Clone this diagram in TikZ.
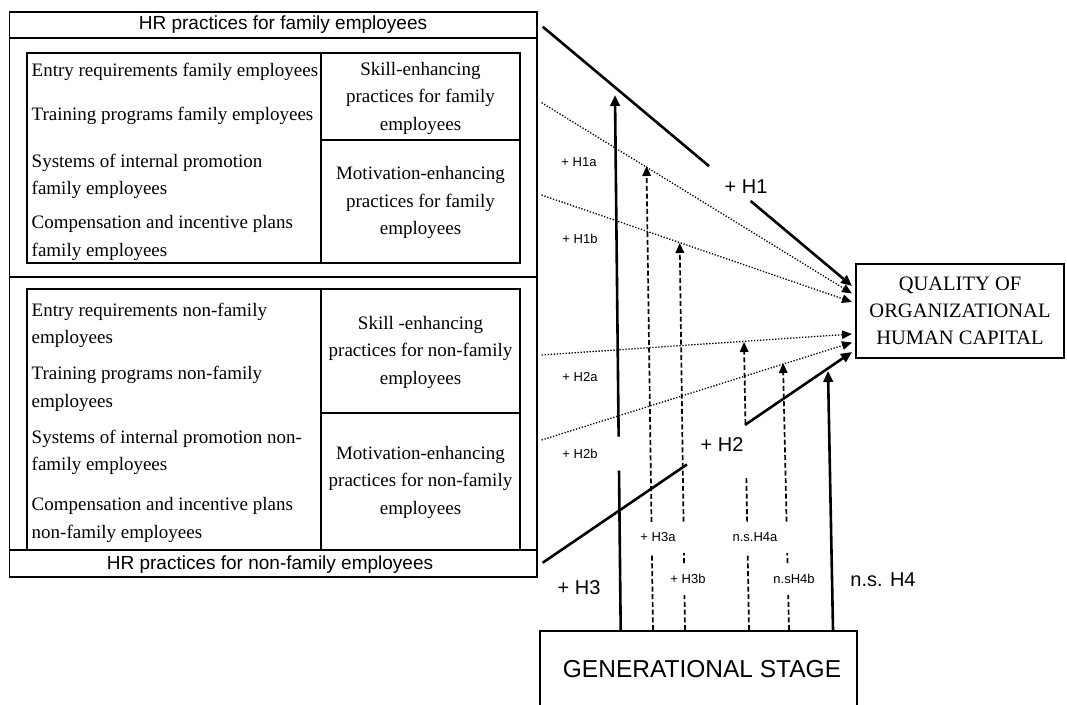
\documentclass[tikz,border=0pt]{standalone}
\usepackage{fontspec}
\setmainfont{Liberation Serif}
\newfontfamily\arialf{Liberation Sans}
\usetikzlibrary{arrows.meta,calc}
\begin{document}
\begin{tikzpicture}[x=1pt,y=-1pt,
  frameline/.style={line width=1.8pt},
  sertext/.style={font=\fontsize{19}{27.5}\selectfont, inner sep=0pt},
  lefttext/.style={sertext, anchor=west, align=left},
  celltext/.style={sertext, align=center},
  hdrtext/.style={font=\arialf\fontsize{19}{23}\selectfont, inner sep=0pt},
  biglabel/.style={font=\arialf\fontsize{20}{24}\selectfont, inner sep=0pt},
  smalllabel/.style={font=\arialf\fontsize{13}{16}\selectfont, inner sep=0pt},
  strongseg/.style={line width=2.6pt},
  strongarr/.style={line width=2.6pt, -{Triangle[length=11pt,width=9.5pt]}},
  dotarr/.style={line width=1.3pt, dash pattern=on 1.3pt off 1.7pt, -{Triangle[length=10pt,width=8.5pt]}},
  dashseg/.style={line width=1.7pt, dash pattern=on 5pt off 2.7pt},
  dasharr/.style={dashseg, -{Triangle[length=10pt,width=8.5pt]}},
]
\useasboundingbox (0,0) rectangle (1067,704);
\clip (0,0) rectangle (1067,704);

% ---------- left frame ----------
\draw[frameline] (9.5,11.7) rectangle (537,577.3);
\draw[frameline] (9.5,37.7) -- (537,37.7);
\draw[frameline] (9.5,276.7) -- (537,276.7);
\draw[frameline] (9.5,550) -- (537,550);
% inner box family
\draw[frameline] (27,52.7) rectangle (520,263.3);
\draw[frameline] (321,52.7) -- (321,263.3);
\draw[frameline] (321,140) -- (520,140);
% inner box non-family
\draw[frameline] (27,550) -- (27,289) -- (520,289) -- (520,550);
\draw[frameline] (321,289) -- (321,550);
\draw[frameline] (321,413.3) -- (520,413.3);

\node[hdrtext] (hdrF) at (283,25) {HR practices for family employees};
\node[hdrtext] (hdrN) at (270,565) {HR practices for non-family employees};

% family texts
\node[lefttext] (f1) at (31.5,71.7) {Entry requirements family employees};
\node[lefttext] (f2) at (31.5,116) {Training programs family employees};
\node[lefttext] (f3) at (31.5,176.2) {Systems of internal promotion\\family employees};
\node[lefttext] (f4) at (31.5,237.9) {Compensation and incentive plans\\family employees};
\node[celltext] (fs) at (420.5,98.4) {Skill-enhancing\\practices for family\\employees};
\node[celltext] (fm) at (420.5,202.8) {Motivation-enhancing\\practices for family\\employees};

% non-family texts
\node[lefttext] (n1) at (31.5,325.5) {Entry requirements non-family\\employees};
\node[lefttext] (n2) at (31.5,388.7) {Training programs non-family\\employees};
\node[lefttext] (n3) at (31.5,452.2) {Systems of internal promotion non-\\family employees};
\node[lefttext] (n4) at (31.5,520) {Compensation and incentive plans\\non-family employees};
\node[celltext] (ns) at (420.5,352.1) {Skill -enhancing\\practices for non-family\\employees};
\node[celltext] (nm) at (420.5,482.3) {Motivation-enhancing\\practices for non-family\\employees};

% ---------- outcome and moderator ----------
\node[draw, frameline, minimum width=208pt, minimum height=94pt, inner sep=0pt,
      font=\fontsize{20.5}{27}\selectfont, align=center] (Q) at (960,311)
      {QUALITY OF\\ORGANIZATIONAL\\HUMAN CAPITAL};
\node[draw, frameline, minimum width=317pt, minimum height=100pt, inner sep=0pt,
      anchor=north west] (G) at (539,630) {};
\node[font=\arialf\fontsize{24.5}{28}\selectfont, inner sep=0pt] (Gt) at (702,669) {GENERATIONAL STAGE};

% ---------- coordinates ----------
\coordinate (h1s) at (542.7,26.7);  \coordinate (h1e) at (852,286);
\coordinate (h2s) at (542.7,562.7); \coordinate (h2e) at (852,352);
\coordinate (d1s) at (541.6,102.7); \coordinate (d1e) at (852,293.5);
\coordinate (d2s) at (541.6,195);   \coordinate (d2e) at (852,302);
\coordinate (d3s) at (541.6,355);   \coordinate (d3e) at (852,334);
\coordinate (d4s) at (541.6,440);   \coordinate (d4e) at (852,342.5);
\coordinate (h3b) at (620.7,630);   \coordinate (h3t) at (615,95);
\coordinate (h3ab) at (653,630);    \coordinate (h3at) at (646.5,166);
\coordinate (h3bb) at (685,630);    \coordinate (h3bt) at (679.7,243);
\coordinate (h4ab) at (749,630);    \coordinate (h4at) at (744,342);
\coordinate (h4bb) at (789,630);    \coordinate (h4bt) at (783,363);
\coordinate (h4b) at (833,630);     \coordinate (h4t) at (828,371);

% ---------- main effects ----------
\draw[strongseg] (h1s) -- ($(h1s)!0.538!(h1e)$);
\draw[strongarr] ($(h1s)!0.672!(h1e)$) -- (h1e);
\draw[strongseg] (h2s) -- ($(h2s)!0.4665!(h2e)$);
\draw[strongarr] ($(h2s)!0.654!(h2e)$) -- (h2e);
\draw[dotarr] (d1s) -- (d1e);
\draw[dotarr] (d2s) -- (d2e);
\draw[dotarr] (d3s) -- (d3e);
\draw[dotarr] (d4s) -- (d4e);

% ---------- moderating effects ----------
\draw[strongseg] (h3b) -- ($(h3b)!0.2978!(h3t)$);
\draw[strongarr] ($(h3b)!0.3613!(h3t)$) -- (h3t);

\draw[dashseg] (h3ab) -- ($(h3ab)!0.1656!(h3at)$);
\draw[dasharr] ($(h3ab)!0.2329!(h3at)$) -- (h3at);

\draw[dashseg] (h3bb) -- ($(h3bb)!0.0904!(h3bt)$);
\draw[dashseg] ($(h3bb)!0.1731!(h3bt)$) -- ($(h3bb)!0.199!(h3bt)$);
\draw[dasharr] ($(h3bb)!0.2798!(h3bt)$) -- (h3bt);

\draw[dashseg] (h4ab) -- ($(h4ab)!0.2674!(h4at)$);
\draw[dashseg] ($(h4ab)!0.376!(h4at)$) -- ($(h4ab)!0.5323!(h4at)$);
\draw[dasharr] ($(h4ab)!0.7153!(h4at)$) -- (h4at);

\draw[dashseg] (h4bb) -- ($(h4bb)!0.1311!(h4bt)$);
\draw[dashseg] ($(h4bb)!0.2509!(h4bt)$) -- ($(h4bb)!0.2884!(h4bt)$);
\draw[dasharr] ($(h4bb)!0.4056!(h4bt)$) -- (h4bt);

\draw[strongarr] (h4b) -- (h4t);

% ---------- labels ----------
\node[biglabel] (lH1) at (746,187) {+ H1};
\node[biglabel] (lH2) at (722,445) {+ H2};
\node[biglabel] (lH3) at (579,588) {+ H3};
\node[biglabel] (lH4) at (883,580) {n.s. H4};
\node[smalllabel] (lH1a) at (579,162) {+ H1a};
\node[smalllabel] (lH1b) at (580,239) {+ H1b};
\node[smalllabel] (lH2a) at (580,377) {+ H2a};
\node[smalllabel] (lH2b) at (580,454) {+ H2b};
\node[smalllabel] (lH3a) at (658,537) {+ H3a};
\node[smalllabel] (lH3b) at (688,579) {+ H3b};
\node[smalllabel] (lH4a) at (755,537) {n.s.H4a};
\node[smalllabel] (lH4b) at (794,579) {n.sH4b};
\end{tikzpicture}
\end{document}
